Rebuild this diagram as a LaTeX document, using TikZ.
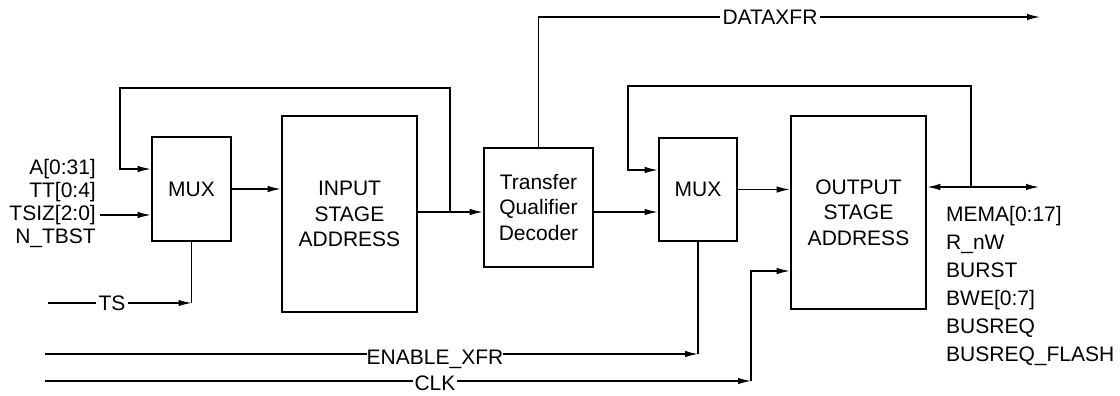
\documentclass[tikz,border=0pt]{standalone}
\usepackage{fontspec}
\setmainfont{Liberation Sans}
\usetikzlibrary{arrows.meta}

\tikzset{
  blk/.style={draw, line width=2.6pt, align=center, inner sep=0pt, font=\fontsize{21}{25.5}\selectfont},
  sig/.style={line width=1.3pt},
  arr/.style={sig, -{Latex[length=13pt,width=6.5pt]}},
  lbl/.style={font=\fontsize{21}{23}\selectfont, inner sep=1pt},
  gap/.style={lbl, fill=white, inner xsep=3pt, inner ysep=1pt}
}

\begin{document}
\begin{tikzpicture}[x=1pt,y=-1pt]
                \useasboundingbox (0,0) rectangle (1120,396);
                \node[blk, minimum width=79pt, minimum height=104pt] (mux1) at (191.5,189) {MUX};
                \node[blk, minimum width=135pt, minimum height=196pt] (inp) at (349.5,214) {INPUT\\STAGE\\ADDRESS};
                \node[blk, minimum width=109pt, minimum height=119pt] (tqd) at (538.5,207.5) {Transfer\\Qualifier\\Decoder};
                \node[blk, minimum width=78pt, minimum height=103pt] (mux2) at (698,189.5) {MUX};
                \node[blk, minimum width=135pt, minimum height=193pt] (outp) at (858.5,212.5) {OUTPUT\\STAGE\\ADDRESS};
                \coordinate (fb1) at (450,212);
                \coordinate (fb1top) at (120,88);
                \coordinate (fb2) at (971,187);
                \coordinate (fb2top) at (628,86);
                \coordinate (inl) at (100,215);
                \coordinate (tsin) at (48,303);
                \coordinate (enin) at (45,354);
                \coordinate (clkin) at (45,381);
                \coordinate (clkup) at (751,381);
                \coordinate (dxend) at (1040,17);
                \coordinate (bdend) at (1039,187);
                \draw[arr] (mux1.east) -- (inp.west |- mux1.east);
                \draw[arr] (inp.east |- fb1) -- (tqd.west |- fb1);
                \draw[arr] (fb1) |- (fb1top) |- ([yshift=20pt]mux1.west);
                \draw[arr] (inl) -- ([yshift=-26pt]mux1.west);
                \draw[arr] (tsin) -- (mux1.south |- tsin);
                \draw[sig] (mux1.south) -- (mux1.south |- tsin);
                \draw[arr] (tqd.east |- fb1) -- (mux2.west |- fb1);
                \draw[arr] (mux2.east) -- (outp.west |- mux2.east);
                \draw[arr] (fb2) |- (fb2top) |- ([yshift=19.5pt]mux2.west);
                \draw[sig, {Latex[length=13pt,width=6.5pt]}-{Latex[length=13pt,width=6.5pt]}] (outp.east |- fb2) -- (bdend);
                \draw[arr] (tqd.north) |- (dxend);
                \draw[arr] (enin) -- (mux2.south |- enin);
                \draw[sig] (mux2.south) -- (mux2.south |- enin);
                \draw[arr] (clkin) -- (clkup);
                \draw[arr] (clkup) |- ([yshift=-58.5pt]outp.west);
                \node[gap] (tslbl) at (112,303) {TS};
                \node[gap] (dxlbl) at (770,17) {DATAXFR};
                \node[lbl, fill=white, inner sep=0pt, anchor=north] (enlbl) at (435,350) {ENABLE\_XFR};
                \node[gap, inner xsep=2pt] (clklbl) at (435,383) {CLK};
                \node[lbl, align=right, anchor=east] (inlbl) at (97,203) {A[0:31]\\TT[0:4]\\TSIZ[2:0]\\N\_TBST};
                \node[lbl, font=\fontsize{21}{28}\selectfont, align=left, anchor=north west] (outlbl) at (945,205) {MEMA[0:17]\\R\_nW\\BURST\\BWE[0:7]\\BUSREQ\\BUSREQ\_FLASH};
            \end{tikzpicture}
\end{document}
